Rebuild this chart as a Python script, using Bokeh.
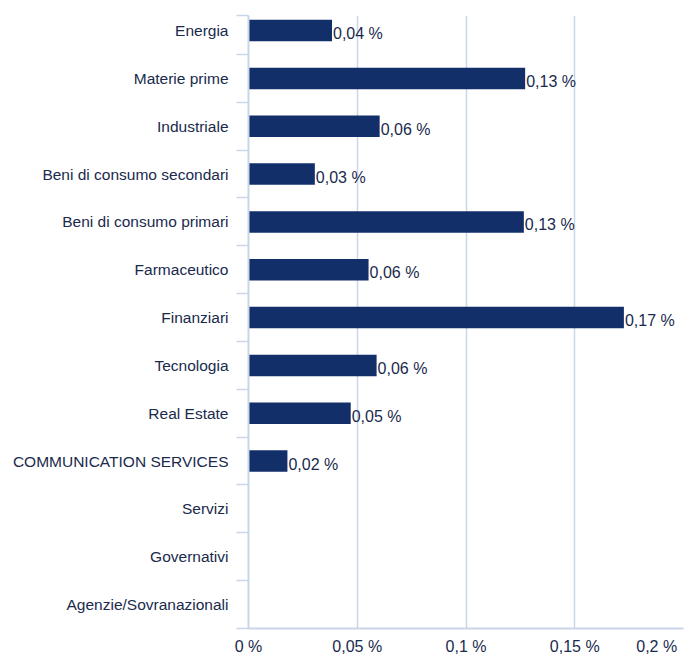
from bokeh.plotting import figure
from bokeh.models import ColumnDataSource, Range1d, FixedTicker
from bokeh.core.properties import value
from bokeh.embed import file_html
from bokeh.resources import INLINE

categories = ["Energia", "Materie prime", "Industriale", "Beni di consumo secondari",
              "Beni di consumo primari", "Farmaceutico", "Finanziari", "Tecnologia",
              "Real Estate", "COMMUNICATION SERVICES", "Servizi", "Governativi",
              "Agenzie/Sovranazionali"]
values = [0.0384, 0.1272, 0.0603, 0.0305, 0.1266, 0.0552, 0.1726, 0.0589, 0.0470, 0.0179, 0.0, 0.0, 0.0]
value_labels = ["0,04 %", "0,13 %", "0,06 %", "0,03 %", "0,13 %", "0,06 %", "0,17 %",
                "0,06 %", "0,05 %", "0,02 %", "", "", ""]
x_ticks = [0, 0.05, 0.1, 0.15, 0.2]
x_tick_labels = ["0 %", "0,05 %", "0,1 %", "0,15 %", "0,2 %"]

FONT = "Liberation Sans"
TEXT = "#1a2a4d"
BAR = "#132f6a"
GRID = "#c9d6e8"

n = len(categories)
centers = [i + 0.5 for i in range(n)]

p = figure(width=690, height=658, output_backend="svg", toolbar_location=None,
           x_range=Range1d(0, 0.2), y_range=Range1d(n, 0.185),
           min_border_left=248, min_border_right=7, min_border_top=15, min_border_bottom=30)
p.outline_line_color = None

src = ColumnDataSource(dict(y=centers, v=values))
p.hbar(y="y", left=0, right="v", height=0.45, source=src, fill_color=BAR, line_color=None)

lab_src = ColumnDataSource(dict(
    y=[c for c, v in zip(centers, values) if v > 0],
    v=[v for v in values if v > 0],
    t=[t for t, v in zip(value_labels, values) if v > 0]))
p.text(x="v", y="y", text="t", source=lab_src, x_offset=1, y_offset=3,
       text_align="left", text_baseline="middle", text_font=value(FONT),
       text_font_size="16px", text_color=TEXT)

# x axis
p.xaxis.ticker = FixedTicker(ticks=x_ticks)
overrides = {t: l for t, l in zip(x_ticks, x_tick_labels)}
overrides[x_ticks[-1]] = x_tick_labels[-1] + "\u00a0" * 3
p.xaxis.major_label_overrides = overrides
p.xaxis.major_tick_out = 0
p.xaxis.major_tick_in = 0
p.xaxis.minor_tick_out = 0
p.xaxis.minor_tick_in = 0
p.xaxis.axis_line_color = GRID
p.xaxis.axis_line_width = 2
p.xaxis.major_label_standoff = 9
p.xaxis.major_label_text_font = FONT
p.xaxis.major_label_text_font_size = "16px"
p.xaxis.major_label_text_color = TEXT

p.xgrid.ticker = FixedTicker(ticks=x_ticks)
p.xgrid.grid_line_color = GRID
p.xgrid.grid_line_width = 1.5
p.ygrid.visible = False

# y axis
p.yaxis.ticker = FixedTicker(ticks=centers, minor_ticks=[0.185] + list(range(1, n + 1)))
p.yaxis.major_label_overrides = {c: name for c, name in zip(centers, categories)}
p.yaxis.major_tick_out = 0
p.yaxis.major_tick_in = 0
p.yaxis.minor_tick_out = 12
p.yaxis.minor_tick_in = 0
p.yaxis.minor_tick_line_color = GRID
p.yaxis.minor_tick_line_width = 1.5
p.yaxis.axis_line_color = GRID
p.yaxis.axis_line_width = 2
p.yaxis.major_label_standoff = 8
p.yaxis.major_label_text_font = FONT
p.yaxis.major_label_text_font_size = "15.5px"
p.yaxis.major_label_text_color = TEXT

open("out.html", "w").write(file_html(p, INLINE))
